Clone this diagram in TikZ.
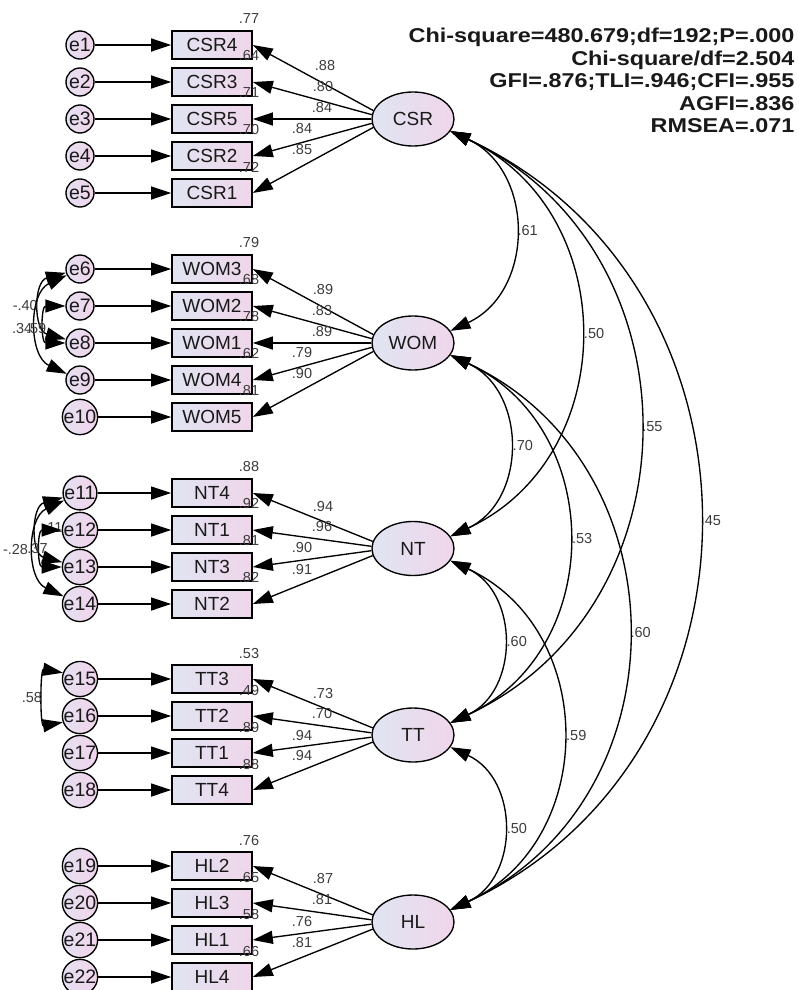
\documentclass[tikz,border=0pt]{standalone}
\usepackage{fontspec}
\setmainfont{Liberation Sans}
\newfontfamily\statsfont[FakeStretch=1.17]{Liberation Sans}
\usetikzlibrary{arrows.meta,shapes.geometric}
\definecolor{boxL}{RGB}{224,228,242}
\definecolor{boxR}{RGB}{240,214,234}
\definecolor{errL}{RGB}{230,224,242}
\definecolor{errR}{RGB}{240,212,234}
\definecolor{lbl}{RGB}{60,60,60}
\definecolor{txt}{RGB}{25,25,25}
\begin{document}
\begin{tikzpicture}[x=1pt,y=1pt,
  >={Triangle[length=20pt,width=13pt]},
  line width=1.35pt,
  obs/.style={draw, line width=1.6pt, left color=boxL, right color=boxR,
    minimum width=80pt, minimum height=28pt, inner sep=0pt, text=txt,
    font=\fontsize{19}{20}\selectfont},
  err/.style={circle, draw, line width=1.35pt, left color=errL, right color=errR,
    minimum size=28pt, inner sep=0pt, text=txt,
    font=\fontsize{19.5}{20}\selectfont},
  lat/.style={ellipse, draw, line width=1.35pt, left color=boxL, right color=boxR,
    minimum width=82pt, minimum height=54pt, inner sep=0pt, text=txt,
    font=\fontsize{19}{20}\selectfont},
  num/.style={font=\fontsize{14.5}{15}\selectfont, text=lbl, inner sep=0pt},
  corr/.style={<->, out=-25, in=25, looseness=1.2},
]
\fill[white] (0,0) rectangle (799,-990);
\useasboundingbox (0,0) rectangle (799,-990);

% statistics
\node[anchor=north east, align=right, inner sep=0pt, text=txt,
  font=\statsfont\bfseries\fontsize{20}{22.5}\selectfont] (stats) at (795,-27.5)
  {Chi-square=480.679;df=192;P=.000\\Chi-square/df=2.504\\GFI=.876;TLI=.946;CFI=.955\\AGFI=.836\\RMSEA=.071};

% latent variables
\node[lat] (CSR) at (413,-119) {CSR};
\node[lat] (WOM) at (413,-343) {WOM};
\node[lat] (NT) at (413,-548.5) {NT};
\node[lat] (TT) at (413,-735) {TT};
\node[lat] (HL) at (413,-922) {HL};

% CSR block
\foreach \ind/\err/\row/\rsq/\lam/\lx/\ly/\ang in {
  CSR4/e1/45/.77/.88/325/66/168,
  CSR3/e2/82/.64/.80/323/87/174,
  CSR5/e3/119/.71/.84/322/108/180,
  CSR2/e4/156/.70/.84/302/129/186,
  CSR1/e5/193/.72/.85/302/150/192}{
  \node[obs] (\ind) at (212,-\row) {\ind};
  \node[err] (\err) at (80,-\row) {\err};
  \draw[->] (\err) -- (\ind);
  \draw[->] (CSR.\ang) -- (\ind.east);
  \node[num] (r\ind) at (249,-\row+26) {\rsq};
  \node[num] (l\ind) at (\lx,-\ly) {\lam};
}
% WOM block
\foreach \ind/\err/\row/\rsq/\lam/\lx/\ly/\ang in {
  WOM3/e6/269/.79/.89/323/290/168,
  WOM2/e7/306/.68/.83/322/311/174,
  WOM1/e8/343/.78/.89/322/332/180,
  WOM4/e9/380/.62/.79/302/353/186,
  WOM5/e10/417/.81/.90/302/374/192}{
  \node[obs] (\ind) at (212,-\row) {\ind};
  \node[err] (\err) at (80,-\row) {\err};
  \draw[->] (\err) -- (\ind);
  \draw[->] (WOM.\ang) -- (\ind.east);
  \node[num] (r\ind) at (249,-\row+26) {\rsq};
  \node[num] (l\ind) at (\lx,-\ly) {\lam};
}
% NT block
\foreach \ind/\err/\row/\rsq/\lam/\lx/\ly/\ang in {
  NT4/e11/493/.88/.94/323/507/170,
  NT1/e12/530/.92/.96/322/527/177,
  NT3/e13/567/.81/.90/302/548/183,
  NT2/e14/604/.82/.91/302/570/190}{
  \node[obs] (\ind) at (212,-\row) {\ind};
  \node[err] (\err) at (80,-\row) {\err};
  \draw[->] (\err) -- (\ind);
  \draw[->] (NT.\ang) -- (\ind.east);
  \node[num] (r\ind) at (249,-\row+26) {\rsq};
  \node[num] (l\ind) at (\lx,-\ly) {\lam};
}
% TT block
\foreach \ind/\err/\row/\rsq/\lam/\lx/\ly/\ang in {
  TT3/e15/679/.53/.73/323/693/170,
  TT2/e16/716/.49/.70/322/713/177,
  TT1/e17/753/.89/.94/302/735/183,
  TT4/e18/790/.88/.94/302/755/190}{
  \node[obs] (\ind) at (212,-\row) {\ind};
  \node[err] (\err) at (80,-\row) {\err};
  \draw[->] (\err) -- (\ind);
  \draw[->] (TT.\ang) -- (\ind.east);
  \node[num] (r\ind) at (249,-\row+26) {\rsq};
  \node[num] (l\ind) at (\lx,-\ly) {\lam};
}
% HL block
\foreach \ind/\err/\row/\rsq/\lam/\lx/\ly/\ang in {
  HL2/e19/866/.76/.87/323/878/170,
  HL3/e20/903/.65/.81/322/899/177,
  HL1/e21/940/.58/.76/302/921/183,
  HL4/e22/977/.66/.81/302/942/190}{
  \node[obs] (\ind) at (212,-\row) {\ind};
  \node[err] (\err) at (80,-\row) {\err};
  \draw[->] (\err) -- (\ind);
  \draw[->] (HL.\ang) -- (\ind.east);
  \node[num] (r\ind) at (249,-\row+26) {\rsq};
  \node[num] (l\ind) at (\lx,-\ly) {\lam};
}

% correlations among latent variables
\draw[corr] (CSR.-18) to node[num,right=3pt] (c1) {.61} (WOM.18);
\draw[corr] (CSR.-18) to node[num,right=4pt] (c2) {.50} (NT.18);
\draw[corr] (CSR.-18) to node[num,right=3pt] (c3) {.55} (TT.18);
\draw[corr] (CSR.-18) to node[num,right=2pt] (c4) {.45} (HL.18);
\draw[corr] (WOM.-18) to node[num,right=4pt] (c5) {.70} (NT.18);
\draw[corr] (WOM.-18) to node[num,right=4pt] (c6) {.53} (TT.18);
\draw[corr] (WOM.-18) to node[num,right=3pt] (c7) {.60} (HL.18);
\draw[corr] (NT.-18) to node[num,right=4pt] (c8) {.60} (TT.18);
\draw[corr] (NT.-18) to node[num,right=4pt] (c9) {.59} (HL.18);
\draw[corr] (TT.-18) to node[num,right=4pt] (c10) {.50} (HL.18);

% error covariances
\draw[<->] (e6.195) to[out=195,in=165,looseness=1.3] node[num,left=3pt] (v1) {-.40} (e8.165);
\draw[<->] (e6.205) to[out=205,in=155,looseness=1.1] node[num,left=5pt,yshift=-4pt] (v2) {.34} (e9.155);
\draw[<->] (e7.west) to[out=180,in=180,looseness=1.7] node[num,left=0pt,yshift=-4pt] (v3) {.59} (e8.west);

\draw[<->] (e11.205) to[out=205,in=155,looseness=1.1] node[num,left=7pt,yshift=-1pt] (v4) {-.28} (e14.155);
\draw[<->] (e11.195) to[out=195,in=165,looseness=1.3] (e13.165);
\node[num] (v5) at (53,-528) {.11};
\draw[<->] (e12.west) to[out=180,in=180,looseness=1.7] node[num,left=0pt,xshift=5pt] (v6) {.37} (e13.west);

\draw[<->] (e15.160) to[out=170,in=190,looseness=1.2] node[num,left=3pt] (v7) {.58} (e16.200);
\end{tikzpicture}
\end{document}
